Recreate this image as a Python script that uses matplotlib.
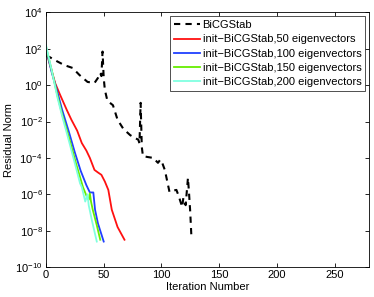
import matplotlib
matplotlib.use('Agg')
import matplotlib.pyplot as plt
import numpy as np

plt.rcParams['font.family'] = ['Liberation Sans', 'DejaVu Sans']
plt.rcParams['mathtext.fontset'] = 'custom'
plt.rcParams['mathtext.rm'] = 'Liberation Sans'
plt.rcParams['mathtext.it'] = 'Liberation Sans'
plt.rcParams['mathtext.default'] = 'regular'

# residual norm curves (iteration, log10 residual)
bicg_iter = [0, 3, 10, 16, 23, 29, 36, 42, 45, 47, 48, 49, 50, 51, 53, 54, 58, 62, 67, 73,
             77, 80, 81, 82, 83, 84, 88, 93, 97, 99, 100, 103, 107, 110, 113, 115, 118, 119,
             121, 123, 124, 125, 126]
bicg_log = [1.6, 1.55, 1.3, 1.1, 0.95, 0.56, 0.18, 0.12, 0.4, 0.67, 0.5, 1.85, 0.4, -0.26,
            -0.8, -0.9, -1.1, -1.9, -2.4, -2.75, -2.9, -3.0, -3.2, -0.97, -3.4, -3.9, -3.95,
            -4.0, -4.27, -4.1, -4.15, -4.67, -5.87, -5.8, -5.76, -6.1, -6.7, -6.2, -6.6, -5.1,
            -6.0, -7.0, -8.35]

e50_iter = [0, 4, 8, 12, 18, 22, 27, 31, 35, 38, 42, 45, 48, 51, 54, 57, 62, 68]
e50_log = [1.9, 1.0, 0.1, -0.5, -1.36, -1.9, -2.5, -3.18, -3.6, -4.0, -4.66, -4.8, -4.93,
           -5.3, -5.76, -6.85, -7.8, -8.5]

e100_iter = [0, 5, 10, 14, 20, 25, 30, 35, 38, 41, 42.5, 45, 50]
e100_log = [2.0, 0.7, -0.4, -1.36, -2.6, -3.7, -4.7, -5.5, -5.9, -5.9, -6.85, -7.6, -8.6]

e150_iter = [0, 5, 10, 14, 20, 26, 32, 35.5, 37, 38, 39, 40.5, 44, 47]
e150_log = [2.1, 0.8, -0.6, -1.6, -2.9, -4.3, -5.6, -6.15, -6.3, -5.95, -6.4, -6.85, -7.7, -8.5]

e200_iter = [0, 5, 10, 14, 20, 25, 29.5, 31, 34, 36, 37, 40, 44]
e200_log = [2.2, 0.8, -0.7, -1.7, -3.1, -4.3, -5.4, -5.6, -6.4, -6.0, -6.6, -7.5, -8.6]

labels = ['BiCGStab',
          'init\u2212BiCGStab,50 eigenvectors',
          'init\u2212BiCGStab,100 eigenvectors',
          'init\u2212BiCGStab,150 eigenvectors',
          'init\u2212BiCGStab,200 eigenvectors']

fig = plt.figure(figsize=(3.74, 2.97), dpi=100)
ax = fig.add_axes([0.123, 0.101, 0.864, 0.857])

ax.semilogy(bicg_iter, 10.0 ** np.array(bicg_log), 'k--', lw=1.5, dashes=(3, 2.5), label=labels[0])
ax.semilogy(e50_iter, 10.0 ** np.array(e50_log), color='#ff1010', lw=1.3, label=labels[1])
ax.semilogy(e100_iter, 10.0 ** np.array(e100_log), color='#2040ff', lw=1.3, label=labels[2])
ax.semilogy(e150_iter, 10.0 ** np.array(e150_log), color='#66ee00', lw=1.3, label=labels[3])
ax.semilogy(e200_iter, 10.0 ** np.array(e200_log), color='#80ffe0', lw=1.3, label=labels[4])

ax.set_xlim(0, 280)
ax.set_ylim(1e-10, 1e4)
ax.set_xticks([0, 50, 100, 150, 200, 250])
ax.set_yticks([10.0 ** k for k in range(-10, 5, 2)])
ax.yaxis.set_minor_locator(matplotlib.ticker.NullLocator())
ax.tick_params(direction='in', top=True, right=True, length=3, width=0.6, labelsize=8, pad=2.5)
for s in ax.spines.values():
    s.set_linewidth(0.6)

ax.set_xlabel('Iteration Number', fontsize=8, labelpad=1)
ax.set_ylabel('Residual Norm', fontsize=8, labelpad=1)

leg = ax.legend(loc='upper right', fontsize=8, frameon=True, fancybox=False,
                edgecolor='k', borderpad=0.35, labelspacing=0.38, handlelength=2.4,
                handletextpad=0.2, borderaxespad=0.35)
leg.get_frame().set_linewidth(0.6)

fig.savefig('out.png', dpi=100)
